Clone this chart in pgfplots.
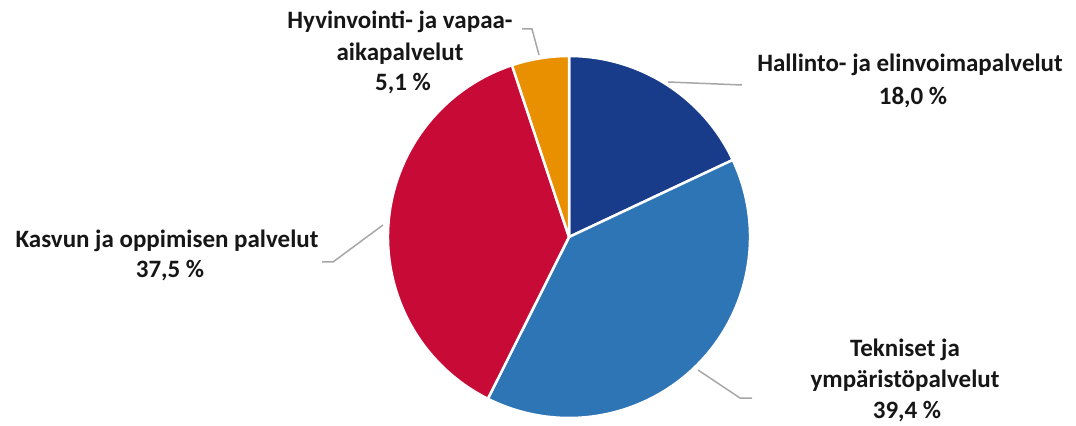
\documentclass[border=0pt]{standalone}
\usepackage{pgfplots}
\pgfplotsset{compat=1.18}
\usepackage{fontspec}
\setmainfont{Carlito}
\definecolor{cHall}{HTML}{183C89}
\definecolor{cTekn}{HTML}{2E75B6}
\definecolor{cKasv}{HTML}{C80A37}
\definecolor{cHyvi}{HTML}{E89000}
\definecolor{cLead}{HTML}{A6A6A6}
\definecolor{cText}{HTML}{161616}
\tikzset{lbl/.style={font=\fontsize{25}{30}\selectfont\bfseries, text=cText, inner sep=0pt, anchor=base}}
% slice: start percentage, percentage, colour
\newcommand\slice[3]{%
  \fill[#3, draw=white, line width=2.5pt, line join=round]
    (axis cs:569,186) -- ([shift={({90-3.6*(#1)}:181pt)}]axis cs:569,186)
    arc[start angle={90-3.6*(#1)}, delta angle={-3.6*(#2)}, radius=181pt] -- cycle;}
\begin{document}
\begin{tikzpicture}
\begin{axis}[
  scale only axis, width=1076pt, height=423pt,
  xmin=0, xmax=1076, ymin=0, ymax=423,
  hide axis, clip=false,
]
% shares (%): Hallinto 18.0, Tekniset 39.4, Kasvun 37.5, Hyvinvointi 5.1
\slice{0}{18.0}{cHall}
\slice{18.0}{39.4}{cTekn}
\slice{57.4}{37.5}{cKasv}
\slice{94.9}{5.1}{cHyvi}
% leader lines
\addplot[cLead, line width=1.5pt, no marks] coordinates {(539,368) (532,394) (522,394)};
\addplot[cLead, line width=1.5pt, no marks] coordinates {(668,341) (742,338)};
\addplot[cLead, line width=1.5pt, no marks] coordinates {(383,198) (333,161) (322,161)};
\addplot[cLead, line width=1.5pt, no marks] coordinates {(698,53) (740,25) (752,25)};
% labels
\node[lbl] at (axis cs:400,394) {Hyvinvointi- ja vapaa-};
\node[lbl] at (axis cs:400,362) {aikapalvelut};
\node[lbl] at (axis cs:403,332) {5,1 \%};
\node[lbl] at (axis cs:910,351) {Hallinto- ja elinvoimapalvelut};
\node[lbl] at (axis cs:913,318) {18,0 \%};
\node[lbl] at (axis cs:167,175) {Kasvun ja oppimisen palvelut};
\node[lbl] at (axis cs:170,145) {37,5 \%};
\node[lbl] at (axis cs:905,66) {Tekniset ja};
\node[lbl] at (axis cs:905,35) {ympäristöpalvelut};
\node[lbl] at (axis cs:907,5) {39,4 \%};
\end{axis}
\path (0,0) rectangle (1076pt,423pt);
\end{tikzpicture}
\end{document}
